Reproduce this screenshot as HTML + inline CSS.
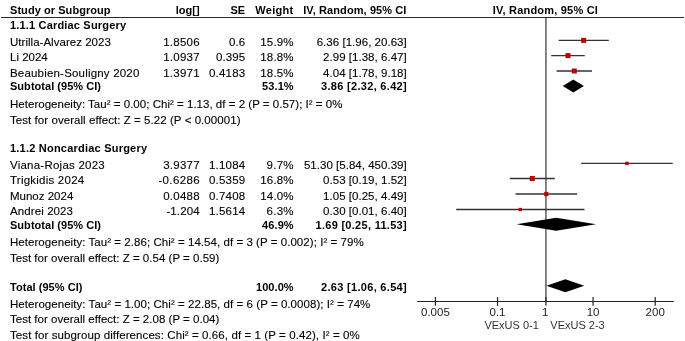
<!DOCTYPE html>
<html><head><meta charset="utf-8"><style>
html,body{margin:0;padding:0;background:#fff;width:685px;height:341px;overflow:hidden}
svg{display:block;will-change:transform}
text{font-family:"Liberation Sans",sans-serif;stroke-width:0.12px}
</style></head><body>
<svg width="685" height="341" viewBox="0 0 685 341">
<line x1="1" y1="17.5" x2="684" y2="17.5" stroke="#2a2a2a" stroke-width="1.2"/>
<line x1="545.95" y1="17.5" x2="545.95" y2="301.5" stroke="#222" stroke-width="1.1"/>
<line x1="417.2" y1="301.5" x2="673.8" y2="301.5" stroke="#222" stroke-width="1.2"/>
<line x1="435.40" y1="297" x2="435.40" y2="305.8" stroke="#222" stroke-width="1.2"/>
<line x1="497.54" y1="297" x2="497.54" y2="305.8" stroke="#222" stroke-width="1.2"/>
<line x1="545.95" y1="297" x2="545.95" y2="305.8" stroke="#222" stroke-width="1.2"/>
<line x1="593.06" y1="297" x2="593.06" y2="305.8" stroke="#222" stroke-width="1.2"/>
<line x1="655.20" y1="297" x2="655.20" y2="305.8" stroke="#222" stroke-width="1.2"/>
<line x1="559.29" y1="40.4" x2="608.08" y2="40.4" stroke="#333" stroke-width="1.4" stroke-linecap="square"/>
<rect x="581.18" y="37.90" width="5" height="5" fill="#c20000"/>
<line x1="551.93" y1="55.6" x2="584.04" y2="55.6" stroke="#333" stroke-width="1.4" stroke-linecap="square"/>
<rect x="565.49" y="53.10" width="5" height="5" fill="#c20000"/>
<line x1="557.27" y1="71.0" x2="591.28" y2="71.0" stroke="#333" stroke-width="1.4" stroke-linecap="square"/>
<rect x="571.78" y="68.50" width="5" height="5" fill="#c20000"/>
<polygon points="562.76,85.9 573.32,79.4 583.87,85.9 573.32,92.4" fill="#000"/>
<line x1="581.91" y1="163.4" x2="672.04" y2="163.4" stroke="#333" stroke-width="1.4" stroke-linecap="square"/>
<rect x="625.28" y="161.70" width="3.4" height="3.4" fill="#c20000"/>
<line x1="510.48" y1="178.5" x2="554.05" y2="178.5" stroke="#333" stroke-width="1.4" stroke-linecap="square"/>
<rect x="529.76" y="176.00" width="5" height="5" fill="#c20000"/>
<line x1="516.20" y1="194.0" x2="576.43" y2="194.0" stroke="#333" stroke-width="1.4" stroke-linecap="square"/>
<rect x="544.21" y="191.90" width="4.2" height="4.2" fill="#c20000"/>
<line x1="456.85" y1="209.5" x2="583.80" y2="209.5" stroke="#333" stroke-width="1.4" stroke-linecap="square"/>
<rect x="518.68" y="207.85" width="3.3" height="3.3" fill="#c20000"/>
<polygon points="516.55,224.2 556.18,217.7 596.01,224.2 556.18,230.7" fill="#000"/>
<polygon points="546.51,285.7 565.36,279.2 584.25,285.7 565.36,292.2" fill="#000"/>
<g stroke="#000">
<text x="10.0" y="13.5" font-size="11.0" font-weight="bold" stroke="none" textLength="100.60" lengthAdjust="spacing">Study or Subgroup</text>
<text x="199.6" y="13.5" font-size="11.0" font-weight="bold" stroke="none" text-anchor="end">log[]</text>
<text x="245.2" y="13.5" font-size="11.0" font-weight="bold" stroke="none" text-anchor="end">SE</text>
<text x="293.20000000000005" y="13.5" font-size="11.0" font-weight="bold" stroke="none" text-anchor="end" textLength="37.96" lengthAdjust="spacing">Weight</text>
<text x="406.4" y="13.5" font-size="11.0" font-weight="bold" stroke="none" text-anchor="end" textLength="103.18" lengthAdjust="spacing">IV, Random, 95% CI</text>
<text x="545.3" y="13.5" font-size="11.0" font-weight="bold" stroke="none" text-anchor="middle" textLength="105.18" lengthAdjust="spacing">IV, Random, 95% CI</text>
<text x="10.0" y="28.8" font-size="11.0" font-weight="bold" stroke="none" textLength="116.00" lengthAdjust="spacing">1.1.1 Cardiac Surgery</text>
<text x="10.0" y="46.0" font-size="11.5" textLength="100.84" lengthAdjust="spacing">Utrilla-Alvarez 2023</text>
<text x="199.6" y="46.0" font-size="11.5" text-anchor="end" textLength="36.47" lengthAdjust="spacing">1.8506</text>
<text x="245.2" y="46.0" font-size="11.5" text-anchor="end" textLength="16.29" lengthAdjust="spacing">0.6</text>
<text x="293.6" y="46.0" font-size="11.5" text-anchor="end" textLength="33.41" lengthAdjust="spacing">15.9%</text>
<text x="406.7" y="46.0" font-size="11.5" text-anchor="end" textLength="90.02" lengthAdjust="spacing">6.36 [1.96, 20.63]</text>
<text x="10.0" y="61.1" font-size="11.5">Li 2024</text>
<text x="199.6" y="61.1" font-size="11.5" text-anchor="end" textLength="36.47" lengthAdjust="spacing">1.0937</text>
<text x="245.2" y="61.1" font-size="11.5" text-anchor="end" textLength="29.08" lengthAdjust="spacing">0.395</text>
<text x="293.6" y="61.1" font-size="11.5" text-anchor="end" textLength="33.41" lengthAdjust="spacing">18.8%</text>
<text x="406.7" y="61.1" font-size="11.5" text-anchor="end" textLength="83.62" lengthAdjust="spacing">2.99 [1.38, 6.47]</text>
<text x="10.0" y="76.6" font-size="11.5" textLength="129.32" lengthAdjust="spacing">Beaubien-Souligny 2020</text>
<text x="199.6" y="76.6" font-size="11.5" text-anchor="end" textLength="36.47" lengthAdjust="spacing">1.3971</text>
<text x="245.2" y="76.6" font-size="11.5" text-anchor="end" textLength="36.17" lengthAdjust="spacing">0.4183</text>
<text x="293.6" y="76.6" font-size="11.5" text-anchor="end" textLength="33.41" lengthAdjust="spacing">18.5%</text>
<text x="406.7" y="76.6" font-size="11.5" text-anchor="end" textLength="83.62" lengthAdjust="spacing">4.04 [1.78, 9.18]</text>
<text x="10.0" y="90.3" font-size="11.0" font-weight="bold" stroke="none" textLength="90.95" lengthAdjust="spacing">Subtotal (95% CI)</text>
<text x="293.6" y="90.3" font-size="11.0" font-weight="bold" stroke="none" text-anchor="end" textLength="31.49" lengthAdjust="spacing">53.1%</text>
<text x="406.7" y="90.3" font-size="11.0" font-weight="bold" stroke="none" text-anchor="end" textLength="85.72" lengthAdjust="spacing">3.86 [2.32, 6.42]</text>
<text x="10.0" y="108.0" font-size="11.5" textLength="332.45" lengthAdjust="spacing">Heterogeneity: Tau² = 0.00; Chi² = 1.13, df = 2 (P = 0.57); I² = 0%</text>
<text x="10.0" y="123.5" font-size="11.5" textLength="230.50" lengthAdjust="spacing">Test for overall effect: Z = 5.22 (P &lt; 0.00001)</text>
<text x="10.0" y="152.1" font-size="11.0" font-weight="bold" stroke="none" textLength="137.06" lengthAdjust="spacing">1.1.2 Noncardiac Surgery</text>
<text x="10.0" y="168.9" font-size="11.5" textLength="94.71" lengthAdjust="spacing">Viana-Rojas 2023</text>
<text x="199.6" y="168.9" font-size="11.5" text-anchor="end" textLength="36.47" lengthAdjust="spacing">3.9377</text>
<text x="245.2" y="168.9" font-size="11.5" text-anchor="end" textLength="36.17" lengthAdjust="spacing">1.1084</text>
<text x="293.6" y="168.9" font-size="11.5" text-anchor="end" textLength="27.01" lengthAdjust="spacing">9.7%</text>
<text x="406.7" y="168.9" font-size="11.5" text-anchor="end" textLength="102.81" lengthAdjust="spacing">51.30 [5.84, 450.39]</text>
<text x="10.0" y="184.3" font-size="11.5" textLength="74.16" lengthAdjust="spacing">Trigkidis 2024</text>
<text x="199.6" y="184.3" font-size="11.5" text-anchor="end" textLength="41.20" lengthAdjust="spacing">-0.6286</text>
<text x="245.2" y="184.3" font-size="11.5" text-anchor="end" textLength="36.17" lengthAdjust="spacing">0.5359</text>
<text x="293.6" y="184.3" font-size="11.5" text-anchor="end" textLength="33.41" lengthAdjust="spacing">16.8%</text>
<text x="406.7" y="184.3" font-size="11.5" text-anchor="end" textLength="83.62" lengthAdjust="spacing">0.53 [0.19, 1.52]</text>
<text x="10.0" y="199.6" font-size="11.5">Munoz 2024</text>
<text x="199.6" y="199.6" font-size="11.5" text-anchor="end" textLength="36.47" lengthAdjust="spacing">0.0488</text>
<text x="245.2" y="199.6" font-size="11.5" text-anchor="end" textLength="36.17" lengthAdjust="spacing">0.7408</text>
<text x="293.6" y="199.6" font-size="11.5" text-anchor="end" textLength="33.41" lengthAdjust="spacing">14.0%</text>
<text x="406.7" y="199.6" font-size="11.5" text-anchor="end" textLength="83.62" lengthAdjust="spacing">1.05 [0.25, 4.49]</text>
<text x="10.0" y="215.2" font-size="11.5" textLength="63.02" lengthAdjust="spacing">Andrei 2023</text>
<text x="199.6" y="215.2" font-size="11.5" text-anchor="end" textLength="33.21" lengthAdjust="spacing">-1.204</text>
<text x="245.2" y="215.2" font-size="11.5" text-anchor="end" textLength="36.17" lengthAdjust="spacing">1.5614</text>
<text x="293.6" y="215.2" font-size="11.5" text-anchor="end" textLength="27.01" lengthAdjust="spacing">6.3%</text>
<text x="406.7" y="215.2" font-size="11.5" text-anchor="end" textLength="83.62" lengthAdjust="spacing">0.30 [0.01, 6.40]</text>
<text x="10.0" y="229.1" font-size="11.0" font-weight="bold" stroke="none" textLength="90.95" lengthAdjust="spacing">Subtotal (95% CI)</text>
<text x="293.6" y="229.1" font-size="11.0" font-weight="bold" stroke="none" text-anchor="end" textLength="31.49" lengthAdjust="spacing">46.9%</text>
<text x="406.7" y="229.1" font-size="11.0" font-weight="bold" stroke="none" text-anchor="end" textLength="91.23" lengthAdjust="spacing">1.69 [0.25, 11.53]</text>
<text x="10.0" y="246.1" font-size="11.5" textLength="353.64" lengthAdjust="spacing">Heterogeneity: Tau² = 2.86; Chi² = 14.54, df = 3 (P = 0.002); I² = 79%</text>
<text x="10.0" y="261.7" font-size="11.5" textLength="209.31" lengthAdjust="spacing">Test for overall effect: Z = 0.54 (P = 0.59)</text>
<text x="10.0" y="290.5" font-size="11.0" font-weight="bold" stroke="none" textLength="72.41" lengthAdjust="spacing">Total (95% CI)</text>
<text x="293.6" y="290.5" font-size="11.0" font-weight="bold" stroke="none" text-anchor="end" textLength="37.61" lengthAdjust="spacing">100.0%</text>
<text x="406.7" y="290.5" font-size="11.0" font-weight="bold" stroke="none" text-anchor="end" textLength="85.72" lengthAdjust="spacing">2.63 [1.06, 6.54]</text>
<text x="10.0" y="308.1" font-size="11.5" textLength="360.33" lengthAdjust="spacing">Heterogeneity: Tau² = 1.00; Chi² = 22.85, df = 6 (P = 0.0008); I² = 74%</text>
<text x="10.0" y="323.3" font-size="11.5" textLength="209.31" lengthAdjust="spacing">Test for overall effect: Z = 2.08 (P = 0.04)</text>
<text x="10.0" y="338.8" font-size="11.5" textLength="349.70" lengthAdjust="spacing">Test for subgroup differences: Chi² = 0.66, df = 1 (P = 0.42), I² = 0%</text>
<text x="435.4" y="316.0" font-size="11.5" text-anchor="middle" fill="#222" stroke="none">0.005</text>
<text x="497.54" y="316.0" font-size="11.5" text-anchor="middle" fill="#222" stroke="none">0.1</text>
<text x="545.3" y="316.0" font-size="11.5" text-anchor="middle" fill="#222" stroke="none">1</text>
<text x="593.06" y="316.0" font-size="11.5" text-anchor="middle" fill="#222" stroke="none">10</text>
<text x="655.2" y="316.0" font-size="11.5" text-anchor="middle" fill="#222" stroke="none">200</text>
<text x="538.8" y="329.0" font-size="11" text-anchor="end" fill="#333" stroke="none">VExUS 0-1</text>
<text x="550.3" y="329.0" font-size="11" fill="#333" stroke="none">VExUS 2-3</text>
</g>
</svg>
</body></html>
